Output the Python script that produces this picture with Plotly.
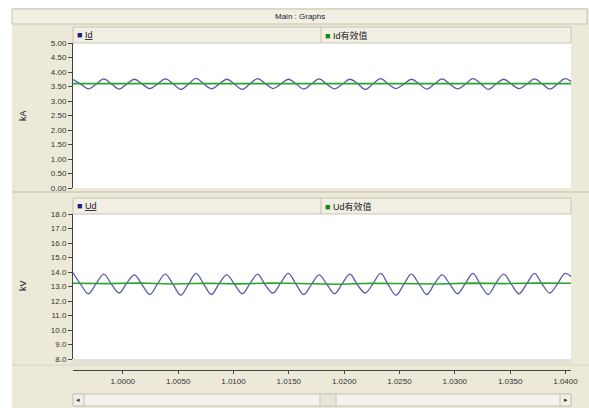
import plotly.graph_objects as go

# ---------------- data ----------------
t = [0.99550, 0.99620, 0.99689, 0.99759, 0.99828, 0.99898, 0.99967, 1.00037,
     1.00106, 1.00176, 1.00245, 1.00315, 1.00384, 1.00454, 1.00523, 1.00593,
     1.00662, 1.00732, 1.00801, 1.00871, 1.00940, 1.01010, 1.01079, 1.01149,
     1.01218, 1.01288, 1.01357, 1.01427, 1.01496, 1.01566, 1.01635, 1.01705,
     1.01774, 1.01844, 1.01913, 1.01983, 1.02052, 1.02122, 1.02191, 1.02261,
     1.02330, 1.02400, 1.02469, 1.02539, 1.02608, 1.02678, 1.02747, 1.02817,
     1.02886, 1.02956, 1.03025, 1.03095, 1.03164, 1.03234, 1.03303, 1.03373,
     1.03442, 1.03512, 1.03581, 1.03651, 1.03720, 1.03790, 1.03859, 1.03929,
     1.03998, 1.04068]

id_vals = [3.74, 3.58, 3.42, 3.58, 3.76, 3.59, 3.41, 3.59,
           3.75, 3.58, 3.43, 3.59, 3.76, 3.60, 3.40, 3.58,
           3.78, 3.59, 3.42, 3.58, 3.75, 3.58, 3.40, 3.59,
           3.77, 3.60, 3.43, 3.58, 3.75, 3.59, 3.41, 3.59,
           3.76, 3.58, 3.42, 3.58, 3.75, 3.60, 3.40, 3.59,
           3.77, 3.58, 3.43, 3.58, 3.75, 3.59, 3.41, 3.59,
           3.76, 3.58, 3.42, 3.58, 3.77, 3.60, 3.40, 3.59,
           3.75, 3.58, 3.43, 3.58, 3.76, 3.59, 3.41, 3.59,
           3.77, 3.62]

ud_vals = [13.95, 13.15, 12.50, 13.20, 13.85, 13.15, 12.55, 13.25,
           13.80, 13.10, 12.45, 13.20, 13.85, 13.15, 12.40, 13.15,
           13.90, 13.15, 12.45, 13.20, 13.80, 13.15, 12.50, 13.20,
           13.85, 13.10, 12.55, 13.25, 13.90, 13.15, 12.45, 13.15,
           13.80, 13.15, 12.50, 13.20, 13.85, 13.10, 12.55, 13.20,
           13.90, 13.10, 12.40, 13.15, 13.85, 13.15, 12.45, 13.20,
           13.80, 13.15, 12.50, 13.20, 13.90, 13.10, 12.45, 13.25,
           13.85, 13.15, 12.50, 13.20, 13.90, 13.15, 12.55, 13.20,
           13.90, 13.55]

t_rms_id = [0.9955, 1.0050, 1.0150, 1.0250, 1.0350, 1.0405]
id_rms = [3.60, 3.60, 3.60, 3.60, 3.60, 3.60]

t_rms_ud = [0.9955, 0.9985, 1.0015, 1.0045, 1.0075, 1.0105, 1.0135, 1.0165,
            1.0195, 1.0225, 1.0255, 1.0285, 1.0315, 1.0345, 1.0375, 1.0405]
ud_rms = [13.22, 13.20, 13.24, 13.17, 13.22, 13.18, 13.24, 13.20,
          13.16, 13.22, 13.20, 13.17, 13.23, 13.20, 13.24, 13.22]

names = ["Id", "Id有效值", "Ud", "Ud有效值"]
units = ["kA", "kV"]
title_text = "Main : Graphs"

# ---------------- layout helpers ----------------
WIDTH, HEIGHT = 589, 408
ML, MR, MT, MB = 73, 18, 43, 38
PW = WIDTH - ML - MR
PH = HEIGHT - MT - MB


def px(x):
    return (x - ML) / PW


def py(y):
    return (HEIGHT - MB - y) / PH


FONT = "Liberation Sans, Arial, Noto Sans CJK SC, sans-serif"
BEIGE = "#ECE9D8"
BAR = "#F1EFE4"
EDGE = "#C9C5B4"
BLUE = "#5a5aae"
GREEN = "#2aa52a"

fig = go.Figure()
fig.add_trace(go.Scatter(x=t, y=id_vals, name=names[0], mode="lines",
                         line=dict(color=BLUE, width=1.3, shape="spline", smoothing=1.0),
                         xaxis="x", yaxis="y"))
fig.add_trace(go.Scatter(x=t_rms_id, y=id_rms, name=names[1], mode="lines",
                         line=dict(color=GREEN, width=1.6),
                         xaxis="x", yaxis="y"))
fig.add_trace(go.Scatter(x=t, y=ud_vals, name=names[2], mode="lines",
                         line=dict(color=BLUE, width=1.3, shape="spline", smoothing=1.0),
                         xaxis="x2", yaxis="y2"))
fig.add_trace(go.Scatter(x=t_rms_ud, y=ud_rms, name=names[3], mode="lines",
                         line=dict(color=GREEN, width=1.6),
                         xaxis="x2", yaxis="y2"))

shapes = []


def rect(x0, y0, x1, y1, fill, line=None, lw=1):
    shapes.append(dict(type="rect", xref="paper", yref="paper",
                       x0=px(x0), x1=px(x1), y0=py(y1), y1=py(y0),
                       fillcolor=fill, line=dict(color=line or fill, width=lw if line else 0),
                       layer="below"))


def hline(x0, x1, y, color, lw=1):
    shapes.append(dict(type="line", xref="paper", yref="paper",
                       x0=px(x0), x1=px(x1), y0=py(y), y1=py(y),
                       line=dict(color=color, width=lw), layer="below"))


def vline(x, y0, y1, color, lw=1):
    shapes.append(dict(type="line", xref="paper", yref="paper",
                       x0=px(x), x1=px(x), y0=py(y0), y1=py(y1),
                       line=dict(color=color, width=lw), layer="below"))


# white margin outside the frame (top strip and left strip)
rect(0, 0, 589, 8, "white")
rect(0, 0, 12, 408, "white")
# title bar
rect(12, 9, 587, 24, BAR, EDGE)
# top legend bar
rect(73, 27, 571, 43, BAR, EDGE)
vline(321, 27, 43, EDGE)
# panel divider
hline(12, 589, 192, "#D8D4C4", 2)
# bottom legend bar
rect(73, 198, 571, 214, BAR, EDGE)
vline(321, 198, 214, EDGE)
# band under the lower panel
rect(73, 359, 571, 364, "#E4E1D2")
hline(12, 589, 365, "#D8D4C4", 1)
# scrollbar
rect(73, 394, 571, 406, "#F4F3EC", EDGE)
rect(73, 394, 84, 406, BAR, EDGE)
rect(560, 394, 571, 406, BAR, EDGE)
rect(320, 394, 336, 406, "#E8E6DA", EDGE)

fig.update_layout(shapes=shapes)

ann = []


def text(x, y, s, size=8, color="#222", xanchor="left", angle=0):
    ann.append(dict(xref="paper", yref="paper", x=px(x), y=py(y), text=s,
                    showarrow=False, xanchor=xanchor, yanchor="middle",
                    textangle=angle, font=dict(family=FONT, size=size, color=color)))


text(300, 16.5, title_text, 8, "#222", "center")
text(75, 35, "<span style='color:#1c1c8a'>■</span> <u>" + names[0] + "</u>", 9)
text(323, 35, "<span style='color:#118a11'>■</span> " + names[1], 9)
text(75, 206, "<span style='color:#1c1c8a'>■</span> <u>" + names[2] + "</u>", 9)
text(323, 206, "<span style='color:#118a11'>■</span> " + names[3], 9)
text(23, 116, units[0], 9, "#222", "center", -90)
text(23, 286, units[1], 9, "#222", "center", -90)
text(566, 400, "▸", 7, "#333", "center")
text(78, 400, "◂", 7, "#333", "center")
fig.update_layout(annotations=ann)

axis_font = dict(family=FONT, size=8, color="#333")
fig.update_layout(
    width=WIDTH, height=HEIGHT,
    margin=dict(l=ML, r=MR, t=MT, b=MB, pad=0),
    paper_bgcolor=BEIGE, plot_bgcolor="white",
    showlegend=False,
    xaxis=dict(domain=[0, 1], anchor="y", range=[0.9955, 1.0405], matches="x2",
               showticklabels=False, showgrid=False, zeroline=False, showline=False, ticks=""),
    xaxis2=dict(domain=[0, 1], anchor="free", position=0, range=[0.9955, 1.0405],
                tick0=1.0, dtick=0.005, tickformat=".4f", ticks="outside", ticklen=3,
                tickcolor="#444", showline=True, linecolor="#444", linewidth=1,
                showgrid=False, zeroline=False, tickfont=axis_font),
    yaxis=dict(domain=[py(188), py(43)], anchor="x", range=[0, 5], dtick=0.5,
               tickformat=".2f", ticks="outside", ticklen=4, tickcolor="#444",
               showline=True, linecolor="#444", linewidth=1, showgrid=False,
               zeroline=False, tickfont=axis_font),
    yaxis2=dict(domain=[py(359), py(214)], anchor="x2", range=[8, 18], dtick=1,
                tickformat=".1f", ticks="outside", ticklen=4, tickcolor="#444",
                showline=True, linecolor="#444", linewidth=1, showgrid=False,
                zeroline=False, tickfont=axis_font),
)

fig.write_html("out.html", config={"displayModeBar": False},
               post_script="document.body.style.margin='0';document.body.style.overflow='hidden';")
